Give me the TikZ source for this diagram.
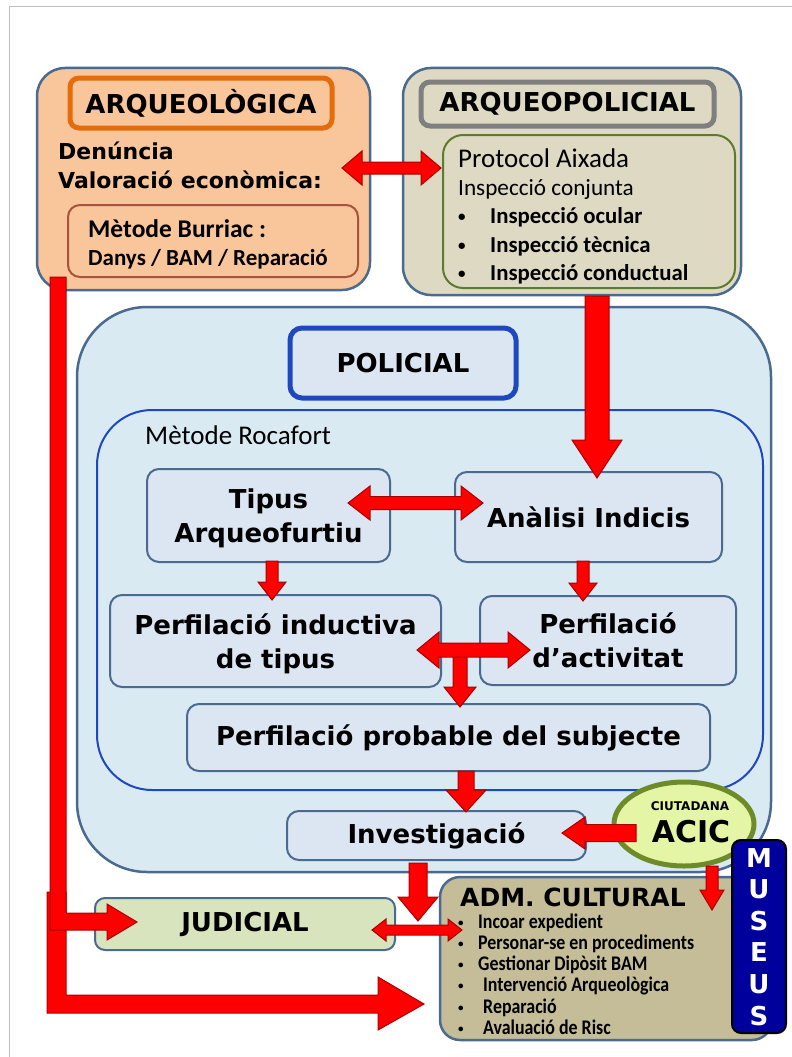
\documentclass[tikz,border=0pt]{standalone}
\usepackage{fontspec}
\setmainfont{DejaVu Sans}
\newfontfamily\carlito{Carlito}
\newfontfamily\carlitonarrow{Carlito}[FakeStretch=0.86]
\usetikzlibrary{calc,positioning,shapes.geometric}

\definecolor{peach}{HTML}{F9C59B}
\definecolor{orangeline}{HTML}{E46C0A}
\definecolor{burriacline}{HTML}{A8533F}
\definecolor{beige}{HTML}{DDD9C3}
\definecolor{greyline}{HTML}{7F7F7F}
\definecolor{oliveline}{HTML}{5E7A2E}
\definecolor{policeblue}{HTML}{DAEAF3}
\definecolor{nodefill}{HTML}{DCE6F2}
\definecolor{edgeblue}{HTML}{4A6A90}
\definecolor{royal}{HTML}{1E48C0}
\definecolor{judgreen}{HTML}{D7E4BD}
\definecolor{admtan}{HTML}{C4BD97}
\definecolor{acicfill}{HTML}{E4F5A6}
\definecolor{acicline}{HTML}{6E8B2A}
\definecolor{museunavy}{HTML}{00009C}
\definecolor{arrowred}{HTML}{FF0000}
\definecolor{arrowedge}{HTML}{A80000}
\definecolor{framegrey}{HTML}{BDBDBD}

\newcommand\fsz[2]{\fontsize{#1}{#2}\selectfont}

\tikzset{panel/.style={draw=edgeblue,line width=2.5pt,rounded corners=28pt,inner sep=0pt},
  titlebox/.style={line width=5pt,rounded corners=9pt,inner sep=0pt,font=\bfseries\fsz{26}{32}},
  textline/.style={anchor=base west,inner sep=0pt},
  blockarrow/.style={fill=arrowred,draw=arrowedge,line width=1pt,line join=miter}}

\newcommand\redarrow[5]{%
  \coordinate (ah) at ($(#2)!#5!(#1)$);
  \draw[blockarrow] ($(#1)!#3!90:(#2)$) -- ($(ah)!#3!90:(#2)$) -- ($(ah)!#4!90:(#2)$) -- (#2)
    -- ($(ah)!#4!-90:(#2)$) -- ($(ah)!#3!-90:(#2)$) -- ($(#1)!#3!-90:(#2)$) -- cycle;}
\newcommand\redbiarrow[5]{%
  \coordinate (ha) at ($(#1)!#5!(#2)$);
  \coordinate (hb) at ($(#2)!#5!(#1)$);
  \draw[blockarrow] (#1) -- ($(ha)!#4!90:(#2)$) -- ($(ha)!#3!90:(#2)$) -- ($(hb)!#3!90:(#2)$)
    -- ($(hb)!#4!90:(#2)$) -- (#2) -- ($(hb)!#4!-90:(#2)$) -- ($(hb)!#3!-90:(#2)$)
    -- ($(ha)!#3!-90:(#2)$) -- ($(ha)!#4!-90:(#2)$) -- cycle;}

\begin{document}
\begin{tikzpicture}[x=1pt,y=-1pt]
        \tikzstyle{stepbox}=[draw=edgeblue,fill=nodefill,line width=2pt,rounded corners=12pt,inner sep=0pt,align=center,font=\bfseries\fsz{26}{34}];
        \useasboundingbox (0,0) rectangle (792,1057);
        \draw[framegrey,line width=1pt] (9,1057) -- (9,7) -- (792,7);

        \node[panel,fill=peach,minimum width=333pt,minimum height=222pt] (arq) at (203.5,179) {};
        \node[titlebox,draw=orangeline,fill=peach,minimum width=262pt,minimum height=50pt] (arqtitle) at (201,103) {ARQUEOLÒGICA};
        \node[textline,font=\bfseries\fsz{22}{28}] (den) at (58,159) {Denúncia};
        \node[textline,font=\bfseries\fsz{22}{28}] (val) at (58,188) {Valoració\hspace{8pt}econòmica:};
        \node[draw=burriacline,fill=peach,line width=2pt,rounded corners=12pt,minimum width=290pt,minimum height=72pt] (bur) at (213,241) {};
        \node[textline,font=\carlito\bfseries\fsz{25.5}{30}] (burtitle) at (88,237) {Mètode Burriac :};
        \node[textline,font=\carlito\bfseries\fsz{23}{26}] (burlist) at (88,265) {Danys / BAM / Reparació};

        \node[panel,fill=beige,minimum width=338pt,minimum height=227pt] (arqpol) at (572,181.5) {};
        \node[titlebox,draw=greyline,fill=beige,minimum width=293pt,minimum height=44pt] (poltitle) at (567.5,104) {ARQUEOPOLICIAL};
        \node[draw=oliveline,line width=2pt,rounded corners=20pt,minimum width=292pt,minimum height=153pt] (prot) at (589,211.5) {};
        \node[textline,font=\carlito\fsz{27}{30}] (prottitle) at (458,167) {Protocol Aixada};
        \node[textline,font=\carlito\fsz{23.2}{26}] (conj) at (458,195) {Inspecció conjunta};
        \foreach \item [count=\k] in {Inspecció ocular,Inspecció tècnica,Inspecció conductual}{
            \node[textline,font=\carlito\bfseries\fsz{15}{20}] (insb\k) at (458,{193+28.5*\k}) {•};
            \node[textline,font=\carlito\bfseries\fsz{22.8}{26}] (ins\k) at (490,{195+28.5*\k}) {\item};
        }

        \node[panel,fill=policeblue,rounded corners=70pt,minimum width=694pt,minimum height=565pt] (pol) at (424,589.5) {};
        \node[titlebox,draw=royal,fill=nodefill,rounded corners=12pt,minimum width=226pt,minimum height=70pt] (poltitle) at (403,363) {POLICIAL};
        \node[draw=royal,line width=2pt,rounded corners=55pt,minimum width=666pt,minimum height=380pt] (roc) at (430,600) {};
        \node[textline,font=\carlito\fsz{27}{30}] (roctitle) at (145,444) {Mètode Rocafort};

        \node[stepbox,text depth=0pt,minimum width=243pt,minimum height=93pt] (tipus) at (268.5,515.5) {Tipus\\Arqueofurtiu};
        \node[stepbox,minimum width=267pt,minimum height=90pt] (ana) at (588.5,517) {Anàlisi Indicis};
        \node[stepbox,text depth=0pt,minimum width=331pt,minimum height=92pt] (ind) at (275.5,641) {Perfilació inductiva\\de tipus};
        \node[stepbox,text depth=0pt,minimum width=256pt,minimum height=89pt] (act) at (608,640.5) {Perfilació\\d’activitat};
        \node[stepbox,minimum width=523pt,minimum height=67pt] (prob) at (448.5,737.5) {Perfilació probable del subjecte};
        \node[stepbox,minimum width=299pt,minimum height=49pt] (inv) at (436.5,835.5) {Investigació};

        \node[stepbox,fill=judgreen,rounded corners=10pt,minimum width=300pt,minimum height=52pt] (jud) at (245,924) {JUDICIAL};
        \node[panel,fill=admtan,rounded corners=20pt,minimum width=332pt,minimum height=163pt] (adm) at (606,958.5) {};
        \node[textline,font=\bfseries\fsz{25}{30}] (admtitle) at (460,906) {ADM. CULTURAL};
        \foreach \item/\ix [count=\k] in {Incoar expedient/478,Personar-se en procediments/478,Gestionar Dipòsit BAM/478,Intervenció Arqueològica/483,Reparació/483,Avaluació de Risc/483}{
            \node[textline,font=\carlito\bfseries\fsz{11}{14}] (admb\k) at (458,{905+21.2*\k}) {•};
            \node[textline,font=\carlitonarrow\bfseries\fsz{20.8}{24}] (adm\k) at (\ix,{907+21.2*\k}) {\item};
        }

        \node[ellipse,draw=acicline,fill=acicfill,line width=5pt,minimum width=140pt,minimum height=84pt] (acic) at (684,824) {};
        \node[anchor=base,inner sep=0pt,font=\bfseries\fsz{12}{14}] (ciut) at (690,810) {CIUTADANA};
        \node[anchor=base,inner sep=0pt,font=\bfseries\fsz{30}{34}] (acictext) at (691,842) {ACIC};

        \node[draw=black,fill=museunavy,line width=2pt,rounded corners=9pt,minimum width=54pt,minimum height=193pt] (mus) at (759,936.5) {};
        \foreach \ch [count=\k] in {M,U,S,E,U,S}
            \node[anchor=base,inner sep=0pt,text=white,font=\bfseries\fsz{26}{30}] (mus\k) at (759,{835.4+31.6*\k}) {\ch};

        \coordinate (a1) at (342,168); \coordinate (a2) at (441,168);
        \coordinate (b1) at (348,503); \coordinate (b2) at (483,503);
        \coordinate (c1) at (272,561); \coordinate (c2) at (272,600);
        \coordinate (d1) at (583,561); \coordinate (d2) at (583,601);
        \coordinate (e1) at (417,650); \coordinate (e2) at (530,650);
        \coordinate (f1) at (460,656); \coordinate (f2) at (460,707);
        \coordinate (g1) at (466,771); \coordinate (g2) at (466,812);
        \coordinate (h1) at (636,833); \coordinate (h2) at (562,833);
        \coordinate (i1) at (418,863); \coordinate (i2) at (418,921);
        \coordinate (j1) at (712,866); \coordinate (j2) at (712,910);
        \coordinate (k1) at (372,930); \coordinate (k2) at (462,930);
        \coordinate (s1) at (597,296); \coordinate (s2) at (597,478);

        \redbiarrow{a1}{a2}{6pt}{17pt}{20pt}
        \redarrow{s1}{s2}{12pt}{25pt}{38pt}
        \redbiarrow{b1}{b2}{6.5pt}{17pt}{22pt}
        \redarrow{c1}{c2}{6pt}{14pt}{18pt}
        \redarrow{d1}{d2}{6pt}{14pt}{18pt}
        \redarrow{f1}{f2}{7pt}{16pt}{20pt}
        \redbiarrow{e1}{e2}{7pt}{18pt}{22pt}
        \redarrow{g1}{g2}{8pt}{20pt}{22pt}
        \redarrow{h1}{h2}{8.5pt}{16pt}{23pt}
        \redarrow{i1}{i2}{9pt}{20pt}{24pt}
        \redarrow{j1}{j2}{6pt}{12pt}{20pt}
        \redbiarrow{k1}{k2}{5pt}{11pt}{14pt}

        \draw[blockarrow] (47,892) -- (47,1013) -- (378,1013) -- (378,1030) -- (424,1004) -- (378,977) -- (378,995) -- (66,995) -- (66,892) -- cycle;
        \draw[blockarrow] (50,277) -- (50,930) -- (107,930) -- (107,940) -- (137,922) -- (107,904) -- (107,913) -- (66,913) -- (66,277) -- cycle;
\end{tikzpicture}
\end{document}
